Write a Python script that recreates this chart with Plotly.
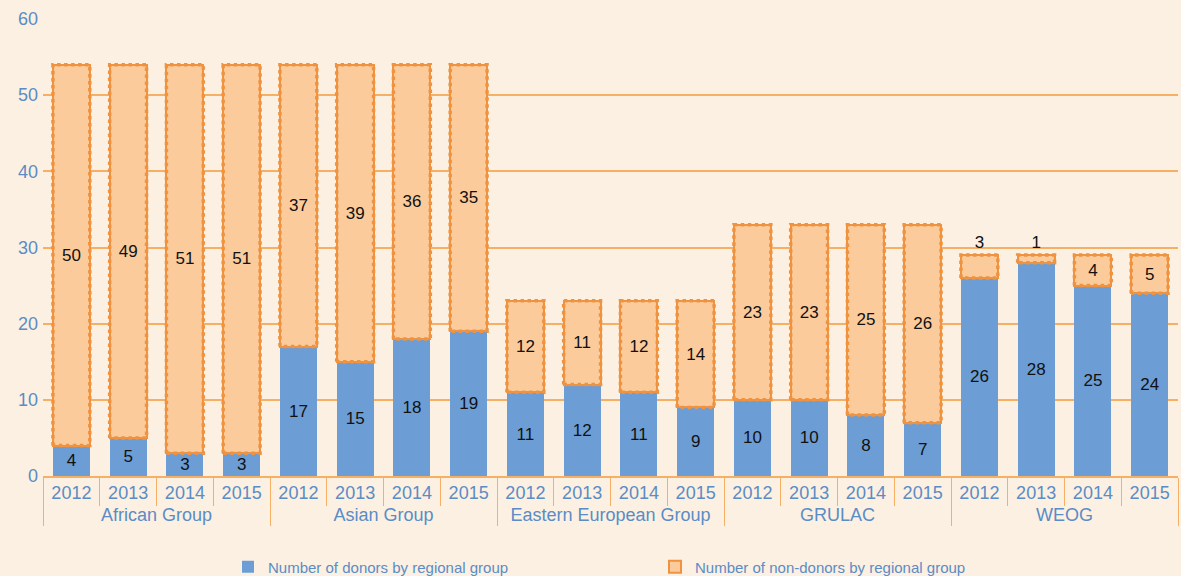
import plotly.graph_objects as go

groups = ["African Group", "Asian Group", "Eastern European Group", "GRULAC", "WEOG"]
years = ["2012", "2013", "2014", "2015"]
donors = [4, 5, 3, 3,
          17, 15, 18, 19,
          11, 12, 11, 9,
          10, 10, 8, 7,
          26, 28, 25, 24]
non_donors = [50, 49, 51, 51,
              37, 39, 36, 35,
              12, 11, 12, 14,
              23, 23, 25, 26,
              3, 1, 4, 5]
y_ticks = [0, 10, 20, 30, 40, 50, 60]

BG = "#FCF0E2"
BLUE = "#6C9DD5"
PEACH = "#FBCB9C"
ORANGE = "#EF9340"
GRID = "#F5B066"
LABEL = "#5A8CC6"
FONT = "Liberation Sans"

x_outer = [g for g in groups for _ in years]
x_inner = [y for _ in groups for y in years]

bar_frac = 0.65

fig = go.Figure()
fig.add_trace(go.Bar(
    x=[x_outer, x_inner], y=donors, name="Number of donors by regional group",
    marker=dict(color=BLUE, line=dict(width=0)),
    text=[str(v) for v in donors], textposition="inside", insidetextanchor="middle",
    textfont=dict(color="#111111", size=17, family=FONT), textangle=0,
))
pos = ["outside" if v < 4 and i >= 16 else "inside" for i, v in enumerate(non_donors)]
fig.add_trace(go.Bar(
    x=[x_outer, x_inner], y=non_donors, name="Number of non-donors by regional group",
    marker=dict(color=PEACH, line=dict(width=2, color=ORANGE)),
    text=[str(v) for v in non_donors], textposition=pos, insidetextanchor="middle",
    textfont=dict(color="#111111", size=17, family=FONT), textangle=0,
    cliponaxis=False,
))

# dotted outlines around non-donor segments (on an overlaying numeric axis)
ox, oy = [], []
half = bar_frac / 2
for i, (d, n) in enumerate(zip(donors, non_donors)):
    b, t = d, d + n
    ox += [i - half, i - half, i + half, i + half, i - half, None]
    oy += [b, t, t, b, b, None]
fig.add_trace(go.Scatter(
    x=ox, y=oy, xaxis="x2", mode="lines", showlegend=False, hoverinfo="skip",
    line=dict(color=ORANGE, width=3.5, dash="dot"),
))

fig.update_layout(
    width=1181, height=576,
    paper_bgcolor=BG, plot_bgcolor=BG,
    barmode="stack", bargap=1 - bar_frac,
    margin=dict(l=43, r=3, t=19, b=100, autoexpand=False),
    font=dict(family=FONT, color=LABEL),
    uniformtext=dict(minsize=17, mode="show"),
    xaxis=dict(
        type="multicategory", showgrid=False, automargin=False,
        showline=True, linecolor=GRID, linewidth=1.5,
        ticks="outside", ticklen=28, tickcolor=GRID, tickwidth=1,
        showdividers=True, dividercolor=GRID, dividerwidth=1,
        tickfont=dict(size=18, color=LABEL, family=FONT),
        range=[-0.5, 19.5],
    ),
    xaxis2=dict(overlaying="x", range=[-0.5, 19.5], visible=False),
    yaxis=dict(
        range=[0, 60], tickvals=y_ticks, showgrid=True, gridcolor=GRID, gridwidth=1.5,
        zeroline=False, showline=False, ticks="", automargin=False,
        tickfont=dict(size=18, color=LABEL, family=FONT),
        ticklabelstandoff=4,
    ),
    legend=dict(
        orientation="h", x=0.163, xanchor="left",
        y=-0.199, yanchor="middle",
        traceorder="normal",
        font=dict(size=15, color=LABEL, family=FONT), entrywidth=382,
        bgcolor="rgba(0,0,0,0)",
    ),
    showlegend=True,
)

fig.write_html(
    "out.html",
    config={"displayModeBar": False},
    post_script="document.body.style.margin='0';document.body.style.overflow='hidden';",
)
